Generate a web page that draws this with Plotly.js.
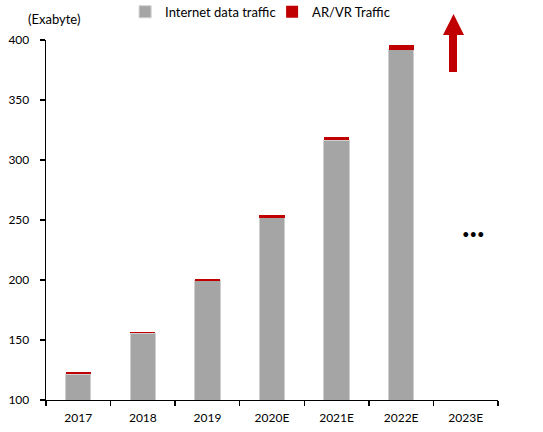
<!DOCTYPE html>
<html>
<head>
<meta charset="utf-8">
<script src="https://cdn.plot.ly/plotly-3.0.1.min.js"></script>
<style>html,body{margin:0;padding:0;background:#fff;}#chart{width:543px;height:432px;}</style>
</head>
<body>
<div id="chart"></div>
<script>
const categories = ['2017', '2018', '2019', '2020E', '2021E', '2022E', '2023E'];
const internetTraffic = [121.5, 155.5, 199.5, 252, 316.5, 392, null];
const arvrTraffic = [1.5, 1.5, 1.5, 2, 2.5, 3.5, null];
const yTicks = [100, 150, 200, 250, 300, 350, 400];

const FONT = 'Lato, "Open Sans", sans-serif';

const traces = [
  {
    type: 'bar', name: 'Internet data traffic', x: categories, y: internetTraffic,
    marker: {color: '#a5a5a5', line: {color: '#cfcfcf', width: 1}}, hoverinfo: 'x+y'
  },
  {
    type: 'bar', name: 'AR/VR Traffic', x: categories, y: arvrTraffic,
    marker: {color: '#c00000', line: {width: 0}}, hoverinfo: 'x+y'
  }
];

const layout = {
  width: 543, height: 432,
  margin: {l: 46, r: 45, t: 40, b: 32, pad: 0, autoexpand: false},
  barmode: 'stack',
  bargap: 0.61,
  paper_bgcolor: '#fff', plot_bgcolor: '#fff',
  font: {family: FONT, size: 12, color: '#000'},
  showlegend: true,
  legend: {
    orientation: 'h', x: 0.175, y: 1.12, xanchor: 'left', yanchor: 'top',
    font: {family: FONT, size: 13, color: '#000'},
    itemwidth: 30, entrywidth: 102, entrywidthmode: 'pixels',
    tracegroupgap: 0, traceorder: 'normal', bgcolor: 'rgba(0,0,0,0)'
  },
  xaxis: {
    type: 'category', categoryorder: 'array', categoryarray: categories,
    showline: true, linecolor: '#000', linewidth: 1.3,
    ticks: 'outside', ticklen: 5, tickcolor: '#000', tickwidth: 1.3,
    tickson: 'boundaries', showgrid: false, zeroline: false,
    tickfont: {family: FONT, size: 12, color: '#000'}, ticklabelstandoff: 6
  },
  yaxis: {
    range: [100, 400], tickvals: yTicks, ticktext: yTicks.map(String),
    showline: true, linecolor: '#000', linewidth: 1.3,
    ticks: 'outside', ticklen: 5, tickcolor: '#000', tickwidth: 1.3,
    showgrid: false, zeroline: false,
    tickfont: {family: FONT, size: 12, color: '#000'}, ticklabelstandoff: 8
  },
  annotations: [
    {text: '(Exabyte)', xref: 'paper', yref: 'paper', x: -0.045, y: 1.058,
     xanchor: 'left', yanchor: 'middle', showarrow: false,
     font: {family: FONT, size: 13, color: '#000'}},
    {text: '•••', xref: 'x', yref: 'y', x: '2023E', y: 238.5, xshift: 8,
     showarrow: false, font: {family: FONT, size: 13, color: '#000'}}
  ],
  shapes: [
    {type: 'path', xref: 'paper', yref: 'paper', layer: 'above',
     fillcolor: '#c00000', line: {width: 0},
     path: 'M 0.8916,0.9111 L 0.8916,1.0139 L 0.8783,1.0139 L 0.9016,1.0722 L 0.9248,1.0139 L 0.9093,1.0139 L 0.9093,0.9111 Z'}
  ]
};

Plotly.newPlot('chart', traces, layout, {displayModeBar: false, staticPlot: true});
</script>
</body>
</html>
